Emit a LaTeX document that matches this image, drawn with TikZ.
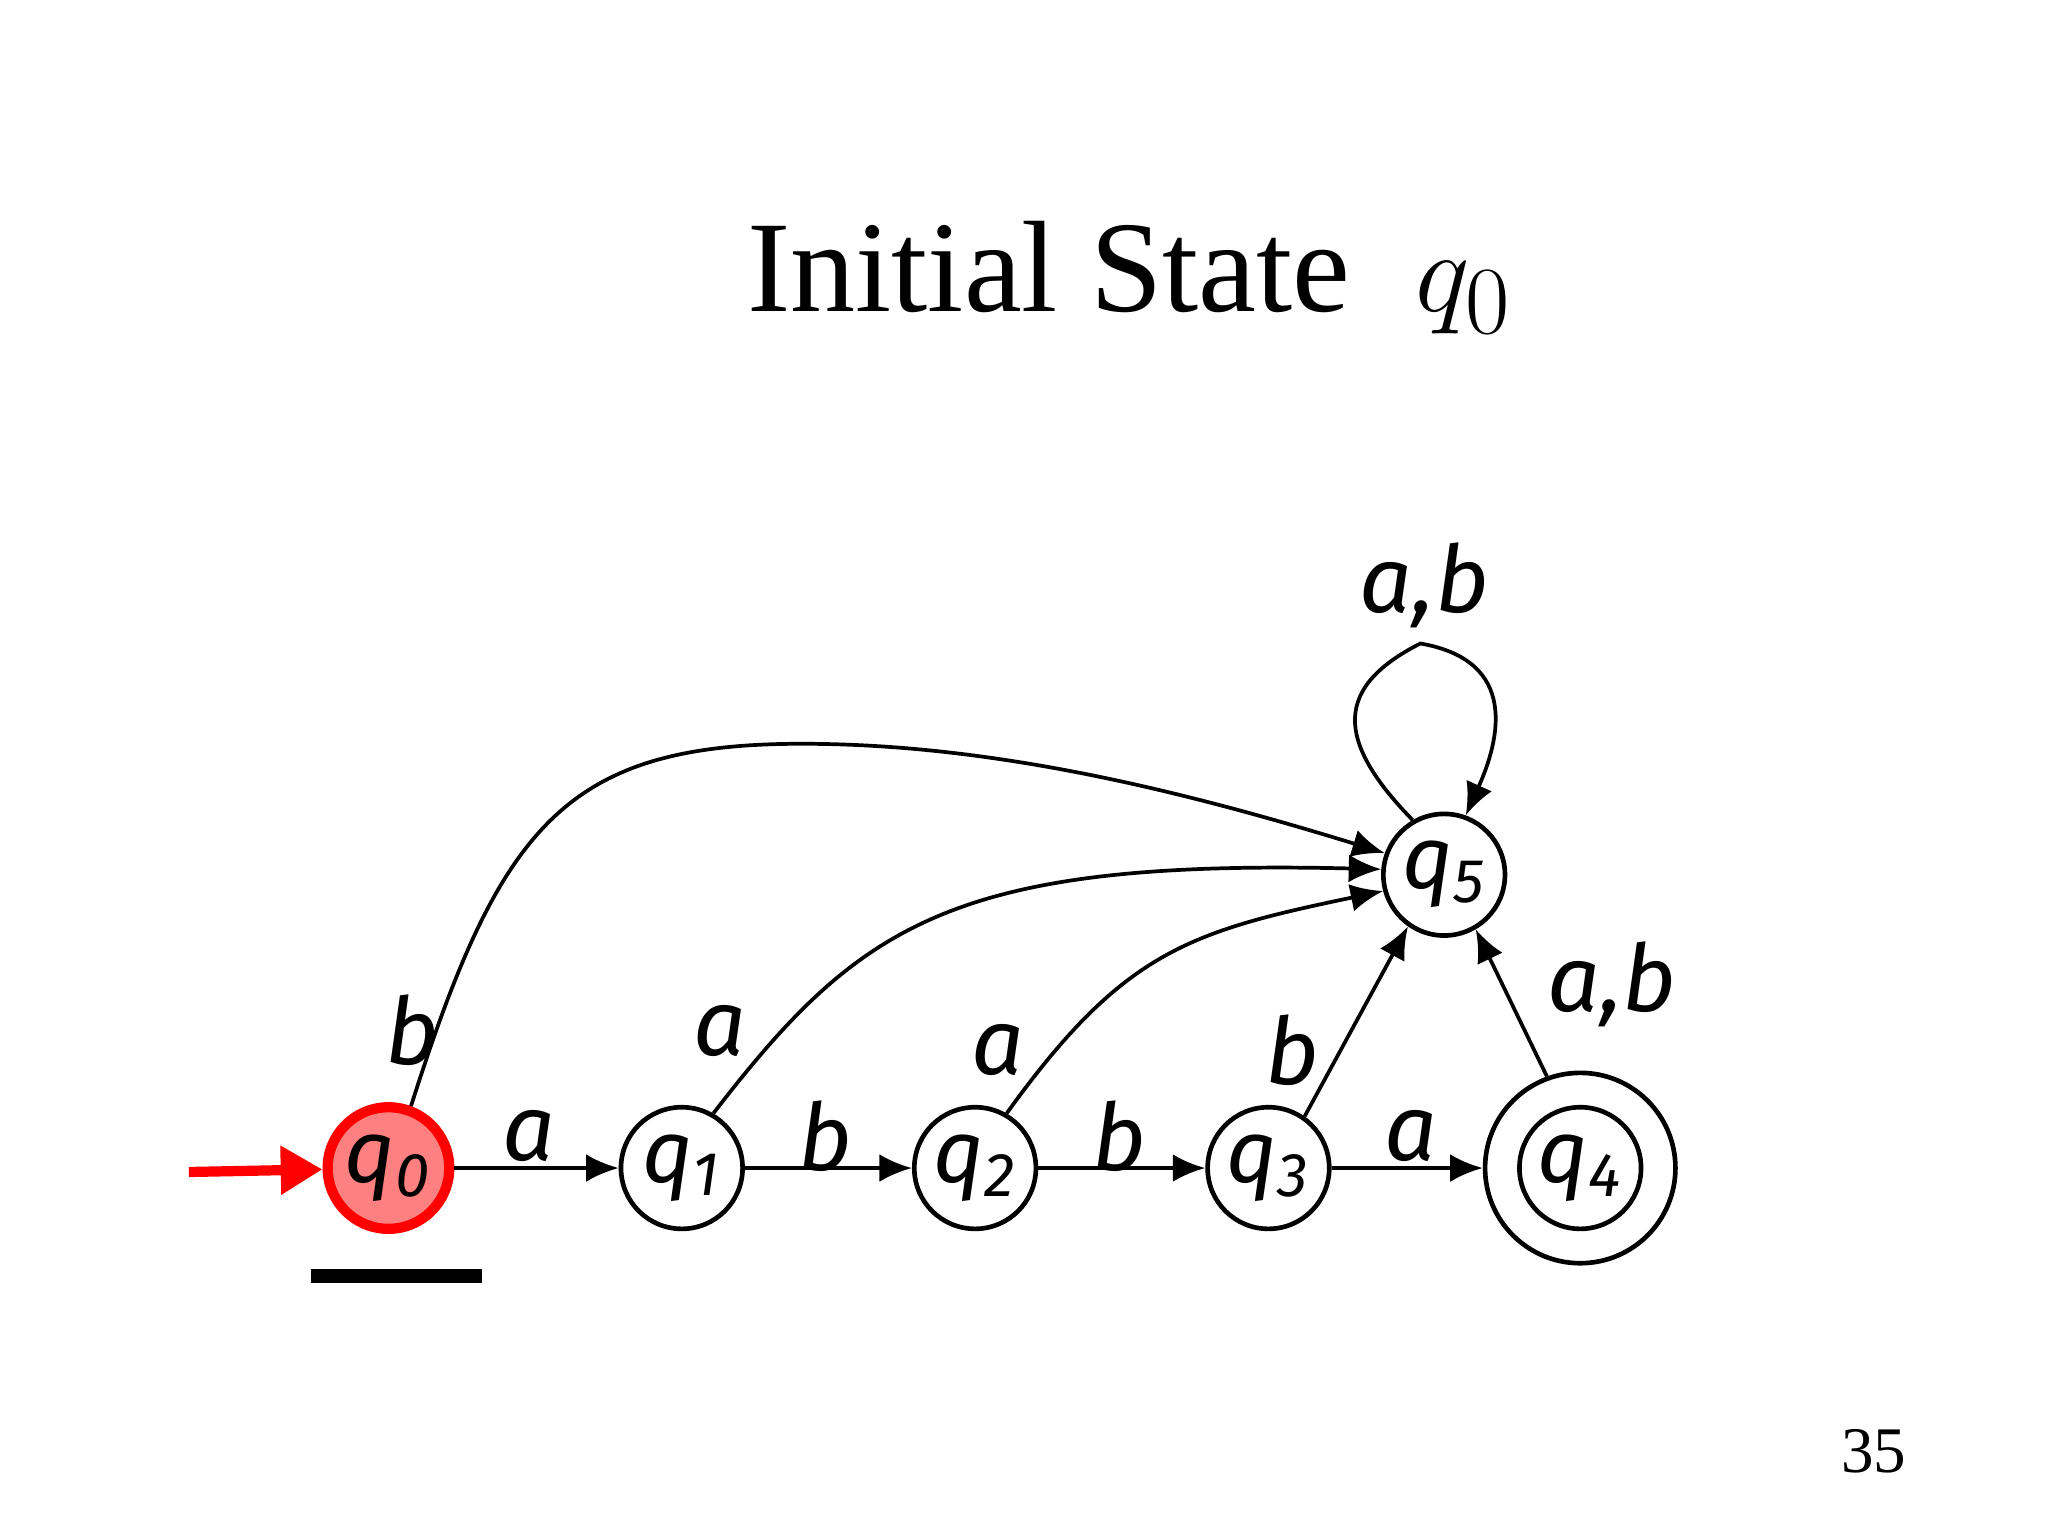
\documentclass[tikz,border=0pt]{standalone}
\usepackage{fontspec}
\setmainfont{Liberation Serif}
\newfontfamily\lab{Fira Sans}
\usetikzlibrary{arrows.meta}
\begin{document}
\begin{tikzpicture}[x=0.01cm,y=-0.01cm,
  st/.style={circle,draw,line width=1pt,minimum size=0.92cm,inner sep=0,font=\lab\itshape\fontsize{19}{19}\selectfont},
  tr/.style={-{Latex[length=7pt,width=6pt]},line width=0.8pt},
  lb/.style={font=\lab\itshape\fontsize{20}{20}\selectfont}]
\useasboundingbox (0,0) rectangle (1550,1162);
\node[font=\fontsize{28}{28}\selectfont] (title) at (855,210) {Initial State\enspace $q_0$};
\node[st,fill=red!50,draw=red,line width=2.2pt] (q0) at (294,884) {q\textsubscript{0}};
\node[st] (q1) at (516,884) {q\textsubscript{1}};
\node[st] (q2) at (738,884) {q\textsubscript{2}};
\node[st] (q3) at (960,884) {q\textsubscript{3}};
\node[st,minimum size=1.44cm] (q4) at (1196,884) {};
\node[st] (q4i) at (q4) {q\textsubscript{4}};
\node[st] (q5) at (1093,662) {q\textsubscript{5}};
\coordinate (s) at (143,887);
\draw[-{Triangle[length=9pt,width=10pt]},red,line width=2.2pt] (s) -- (q0);
\coordinate (u1) at (235,966); \coordinate (u2) at (365,966);
\draw[line width=3pt] (u1) -- (u2);
\draw[tr] (q0) -- (q1); \draw[tr] (q1) -- (q2); \draw[tr] (q2) -- (q3); \draw[tr] (q3) -- (q4);
\draw[tr] (q0.70) .. controls (380,620) and (430,560) .. (620,563) .. controls (760,565) and (900,600) .. (q5.160);
\draw[tr] (q1.60) .. controls (650,700) and (720,650) .. (q5.175);
\draw[tr] (q2.60) .. controls (850,720) and (900,705) .. (q5.195);
\draw[tr] (q3.55) -- (q5.235);
\draw[tr] (q4.110) -- (q5.300);
\draw[tr] (q5.120) .. controls (1010,560) and (1010,520) .. (1075,487) .. controls (1150,500) and (1135,560) .. (q5.70);
\node[lb] (l1) at (400,860) {a}; \node[lb] (l2) at (625,860) {b};
\node[lb] (l3) at (847,860) {b}; \node[lb] (l4) at (1068,860) {a};
\node[lb] (l5) at (312,780) {b}; \node[lb] (l6) at (545,780) {a};
\node[lb] (l7) at (755,795) {a}; \node[lb] (l8) at (978,795) {b};
\node[lb] (l9) at (1220,745) {a,b}; \node[lb] (l10) at (1078,443) {a,b};
\node[font=\fontsize{14}{14}\selectfont] (pg) at (1418,1098) {35};
\end{tikzpicture}
\end{document}
